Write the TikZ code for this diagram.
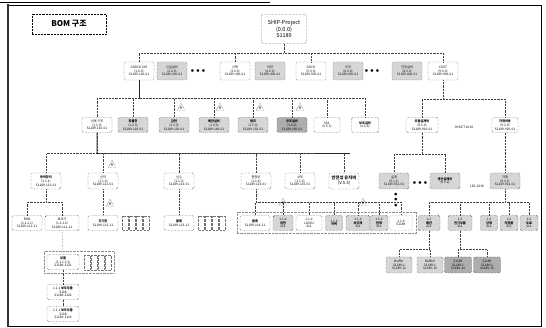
\documentclass[tikz,border=0pt]{standalone}
\usepackage{fontspec}
\setmainfont{Noto Sans CJK KR}
\usepackage{tikz}
\usetikzlibrary{positioning,calc,fit,shapes.geometric}
\tikzset{
  bx/.style={draw,densely dotted,rounded corners=1.5pt,fill=white,align=center,
    inner sep=0.5pt,minimum width=30pt,minimum height=15pt,
    font=\fontsize{3.2}{3.7}\selectfont},
  shd/.style={bx,fill=black!16},
  dk/.style={bx,fill=black!32},
  bus/.style={densely dotted,line width=0.45pt,black!75},
  trunk/.style={line width=0.55pt,black!85},
  tri/.style={regular polygon,regular polygon sides=3,draw,densely dotted,
    inner sep=0.2pt,minimum size=9pt,font=\fontsize{3.5}{4}\selectfont\itshape},
  grp/.style={draw,densely dotted,black!45,inner sep=3pt},
  cell/.style={draw=black!55,densely dotted,line width=0.35pt},
  dots/.style={font=\fontsize{6}{6}\selectfont,inner sep=0pt},
  note/.style={font=\fontsize{3.2}{4}\selectfont},
}
\begin{document}
\begin{tikzpicture}[x=1pt,y=-1pt]
  \useasboundingbox (0,0) rectangle (546,328);
  % frame
  \draw[line width=0.6pt] (8,5) rectangle (541,326);
  \draw[line width=1.8pt,black!80] (8,4) -- (8,327);
  \draw[line width=0.8pt] (0,2) -- (270,2);

  % title and root
  \node[draw,densely dotted,line width=0.45pt,minimum width=74pt,minimum height=20pt,
    font=\fontsize{8}{9}\selectfont\bfseries] (bom) at (69,24) {BOM 구조};
  \node[bx,minimum width=45pt,minimum height=29pt,
    font=\fontsize{5.5}{6.6}\selectfont] (root) at (284,29) {SHIP-Project\\(0.0.0)\\S1189};

  % level 1
  \node[bx,minimum height=18pt] (a1) at (139,71) {CARGO SYS\\(1.0.0)\\S1189-100-01};
  \node[shd,minimum height=18pt] (a2) at (172,71) {선실설비\\(2.0.0)\\S1189-200-01};
  \node[dots] (dt1) at (198,71) {$\bullet\bullet\bullet$};
  \node[bx,minimum height=18pt] (a4) at (235,71) {선체\\(3.0.0)\\S1189-300-01};
  \node[shd,minimum height=18pt] (a5) at (270,71) {의장\\(4.0.0)\\S1189-400-01};
  \node[bx,minimum height=18pt] (a6) at (311,71) {DOCK\\(5.0.0)\\S1189-500-01};
  \node[shd,minimum height=18pt] (a7) at (348,71) {도장\\(6.0.0)\\S1189-600-01};
  \node[dots] (dt2) at (372,71) {$\bullet\bullet\bullet$};
  \node[shd,minimum height=18pt] (a9) at (407,71) {전장설비\\(8.0.0)\\S1189-800-01};
  \node[bx,minimum height=18pt] (a10) at (443,71) {COST\\(9.0.0)\\S1189-900-01};
  \foreach \c in {a1,a4,a6,a10}
    \draw[bus] (root.south) -- ++(0,9.5) -| (\c.north);

  % level 2
  \node[bx] (b1) at (97,125) {선체 구조\\(1.1.0)\\S1189-110-01};
  \node[shd] (b2) at (133,125) {\textbf{화물창}\\(1.2.0)\\S1189-120-01};
  \node[shd] (b3) at (174,125) {\textbf{갑판}\\(1.3.0)\\S1189-130-01};
  \node[shd] (b4) at (214,125) {\textbf{배관설비}\\(1.4.0)\\S1189-140-01};
  \node[shd] (b5) at (253,125) {\textbf{펌프}\\(1.5.0)\\S1189-150-01};
  \node[dk] (b6) at (292,125) {\textbf{공조설비}\\(1.6.0)\\S1189-160-01};
  \node[bx,minimum width=26pt] (b7) at (327,125) {VS1\\(V.S.1)};
  \node[bx,minimum width=27pt] (b8) at (365,125) {\textbf{보조설비}\\(V.S.4)};
  \node[bx,minimum width=32pt] (b9) at (422,125) {\textbf{부품설계비}\\(9.1.0)\\S1189-910-01};
  \node[note] (n1) at (464,127) {OHLET 2016};
  \node[bx,minimum width=26pt] (b10) at (505,125) {\textbf{자재비용}\\(9.2.0)\\S1189-920-01};
  \foreach \c in {b1,b2,b3,b4,b5,b6,b7,b8}
    \draw[bus] (a1.south) -- ++(0,18) -| (\c.north);
  \draw[trunk] (a1.south) -- ++(0,18);
  \foreach \c in {b9,b10}
    \draw[bus] (a10.south) -- ++(0,19) -| (\c.north);
  \node[tri] (r1) at (181,108) {R};
  \node[tri] (r2) at (220,108) {R};
  \node[tri] (r3) at (260,108) {R};
  \node[tri] (r4) at (300,108) {R};

  % level 3
  \node[bx,minimum height=16pt] (c1) at (46,181) {\textbf{동력장치}\\(1.1.1)\\S1189-111-01};
  \node[bx,minimum height=16pt] (c2) at (103,181) {선미\\(1.1.2)\\S1189-112-01};
  \node[bx,minimum height=16pt] (c3) at (179,181) {선수\\(1.1.3)\\S1189-113-01};
  \node[bx,minimum height=16pt] (c4) at (256,181) {중앙부\\(1.1.4)\\S1189-114-01};
  \node[bx,minimum height=16pt] (c5) at (300,181) {상부\\(1.1.5)\\S1189-115-01};
  \node[bx,minimum height=16pt,font=\fontsize{4.3}{5}\selectfont] (c6) at (344,181) {\textbf{안전성 유지비}\\(V.S.3)};
  \node[shd,minimum height=16pt] (c7) at (394,181) {설계\\(9.1.1)\\S1189-911-01};
  \node[dots] (dt3) at (420,183) {$\bullet\bullet\bullet$};
  \node[shd,minimum height=16pt] (c8) at (445,181) {\textbf{생산설계비}\\(9.1.2)};
  \node[note] (n2) at (477,186) {LDC 2016};
  \node[shd,minimum height=16pt] (c9) at (505,181) {자재\\(9.2.1)\\S1189-921-01};
  \foreach \c in {c1,c2,c3,c4,c5,c6}
    \draw[bus] (b1.south) -- ++(0,21) -| (\c.north);
  \draw[trunk] (b1.south) -- ++(0,21) -- (350,153.5);
  \foreach \c in {c7,c8}
    \draw[bus] (b9.south) -- ++(0,22) -| (\c.north);
  \draw[bus] (b10.south) -- (c9.north);
  \node[tri] (r5) at (112,165) {R};
  \node[dots,rotate=90] (dt4) at (396,200) {$\bullet\bullet\bullet$};

  % level 4
  \node[bx] (d1) at (27,223) {RUB\\(1.1.1.1)\\S1189-111-11};
  \node[bx,minimum width=34pt] (d2) at (62,223) {보조기\\(1.1.1.2)\\S1189-111-12};
  \node[bx] (d3) at (103,223) {\textbf{주기관}\\S1189-112-11};
  \node[bx] (d4) at (179,223) {\textbf{블록}\\S1189-113-11};
  \node[bx] (d5) at (255,223) {\textbf{블록}\\S1189-114-11};
  \node[shd,minimum width=20pt] (d6) at (283,223) {1.1.4\\\textbf{외판}\\S11};
  \node[bx,minimum width=26pt] (d7) at (309,223) {1.1.4\\LONGI\\S11};
  \node[shd,minimum width=17pt] (d8) at (334,223) {1.1.4\\\textbf{격벽}};
  \node[shd,minimum width=24pt] (d9) at (358,223) {1.1.4\\\textbf{보강재}\\S11};
  \node[shd,minimum width=18pt] (d10) at (379,223) {1.1.4\\\textbf{판재}\\S11};
  \node[bx,minimum width=23pt,draw=black!50] (d11) at (401,223) {1.1.4\\S1189};
  \node[shd,minimum width=22pt] (d12) at (429,223) {1.2\\\textbf{배관}\\S11};
  \node[shd,minimum width=24pt] (d13) at (460,223) {1.2\\\textbf{전기부품}\\S11};
  \node[shd,minimum width=17pt] (d14) at (489,223) {1.2\\\textbf{강재}\\S11};
  \node[shd,minimum width=18pt] (d15) at (509,223) {1.2\\\textbf{의장품}\\S11};
  \node[shd,minimum width=18pt] (d16) at (529,223) {1.2\\\textbf{도료}\\S11};
  \foreach \c in {d1,d2}
    \draw[bus] (c1.south) -- ++(0,13) -| (\c.north);
  \draw[bus] (c2.south) -- (d3.north);
  \draw[bus] (c3.south) -- (d4.north);
  \foreach \c in {d5,d6,d7,d8,d9,d10,d11}
    \draw[bus] (c4.south) -- ++(0,13) -| (\c.north);
  \foreach \c in {d12,d13,d14,d15,d16}
    \draw[bus] (c9.south) -- ++(0,13) -| (\c.north);
  \node[tri] (r6) at (110,204) {R};
  \node[tri] (r7) at (283,203) {R};
  \node[tri] (r8) at (363,203) {R};
  \node[grp,fit=(d5)(d11)] (g1) {};

  % small part grids
  \foreach \x in {122,129,136,143}
    \draw[cell] (\x,216) rectangle ++(6,14);
  \foreach \x in {198,205,212,219}
    \draw[cell] (\x,216) rectangle ++(6,14);

  % level 5
  \node[bx,minimum width=32pt] (e1) at (63,262) {\textbf{부품}\\(1.1.1.2.1)\\S1189-1121};
  \foreach \x in {84,91,98,105}
    \draw[cell] (\x,255) rectangle ++(6,15);
  \coordinate (gend) at (111,270);
  \draw[bus] (d2.south) -- (e1.north);
  \node[grp,fit=(e1)(gend)] (g2) {};
  \node[bx,minimum width=32pt] (f1) at (63,292) {1.1.1 \textbf{보조부품}\\S118\\S1189-1122};
  \node[bx,minimum width=32pt] (g3) at (63,314) {1.1.1 \textbf{보조부품}\\S118\\S1189-1123};
  \draw[bus] (e1.south) -- (f1.north);
  \draw[bus] (f1.south) -- (g3.north);

  \node[shd,minimum width=26pt,minimum height=16pt] (e2) at (399,265) {Buffer\\S1189-1\\S1189-12};
  \node[shd,minimum width=26pt,minimum height=16pt] (e3) at (430,265) {Bufferl\\S1189-1\\S1189-13};
  \node[dk,minimum width=27pt,minimum height=16pt] (e4) at (458,265) {S1189\\S1189-1\\S1189-14};
  \node[dk,minimum width=27pt,minimum height=16pt] (e5) at (487,265) {S1189\\S1189-1\\S1189-15};
  \foreach \c in {e2,e3}
    \draw[bus] (d12.south) -- ++(0,19) -| (\c.north);
  \foreach \c in {e4,e5}
    \draw[bus] (d13.south) -- ++(0,19) -| (\c.north);
\end{tikzpicture}
\end{document}
